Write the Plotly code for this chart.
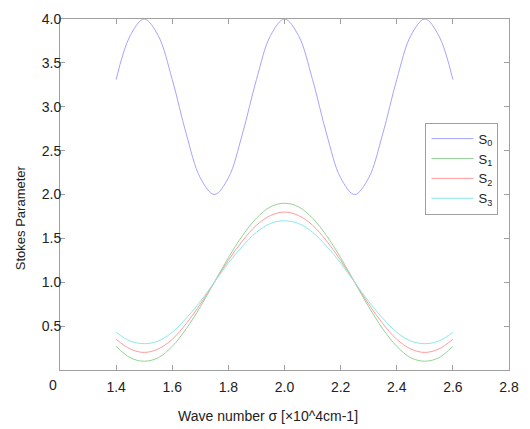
import plotly.graph_objects as go

# Wave number sigma [x10^4 cm-1]
sigma = [1.40, 1.45, 1.50, 1.55, 1.60, 1.65, 1.70, 1.75, 1.80, 1.85, 1.90, 1.95,
         2.00, 2.05, 2.10, 2.15, 2.20, 2.25, 2.30, 2.35, 2.40, 2.45, 2.50, 2.55, 2.60]

s0 = [3.31, 3.81, 4.00, 3.81, 3.31, 2.69, 2.19, 2.00, 2.19, 2.69, 3.31, 3.81,
      4.00, 3.81, 3.31, 2.69, 2.19, 2.00, 2.19, 2.69, 3.31, 3.81, 4.00, 3.81, 3.31]
s1 = [0.27, 0.14, 0.10, 0.14, 0.27, 0.47, 0.72, 1.00, 1.28, 1.53, 1.73, 1.86,
      1.90, 1.86, 1.73, 1.53, 1.28, 1.00, 0.72, 0.47, 0.27, 0.14, 0.10, 0.14, 0.27]
s2 = [0.35, 0.24, 0.20, 0.24, 0.35, 0.53, 0.75, 1.00, 1.25, 1.47, 1.65, 1.76,
      1.80, 1.76, 1.65, 1.47, 1.25, 1.00, 0.75, 0.53, 0.35, 0.24, 0.20, 0.24, 0.35]
s3 = [0.43, 0.33, 0.30, 0.33, 0.43, 0.59, 0.78, 1.00, 1.22, 1.41, 1.57, 1.67,
      1.70, 1.67, 1.57, 1.41, 1.22, 1.00, 0.78, 0.59, 0.43, 0.33, 0.30, 0.33, 0.43]

series_names = ["S<sub>0</sub>", "S<sub>1</sub>", "S<sub>2</sub>", "S<sub>3</sub>"]
series_colors = ["rgb(165,165,255)", "rgb(150,210,150)", "rgb(255,155,155)", "rgb(140,232,232)"]

x_ticks = [1.4, 1.6, 1.8, 2.0, 2.2, 2.4, 2.6, 2.8]
x_ticklabels = ["1.4", "1.6", "1.8", "2.0", "2.2", "2.4", "2.6", "2.8"]
y_ticks = [0.5, 1.0, 1.5, 2.0, 2.5, 3.0, 3.5, 4.0]
y_ticklabels = ["0.5", "1.0", "1.5", "2.0", "2.5", "3.0", "3.5", "4.0"]

FONT = "Liberation Sans, Arial, sans-serif"
W, H = 530, 429
L, R, T, B = 60, 13, 11, 59
PW, PH = W - L - R, H - T - B


def px(x):
    return (x - L) / PW


def py(y):
    return (H - B - y) / PH


fig = go.Figure()
for name, ys, col in zip(series_names, [s0, s1, s2, s3], series_colors):
    fig.add_trace(go.Scatter(x=sigma, y=ys, mode="lines", name=name,
                             line=dict(color=col, width=1, shape="spline", smoothing=1.0)))

axis_common = dict(showline=True, linecolor="#a0a0a0", linewidth=1, mirror="ticks",
                   ticks="inside", ticklen=5, tickcolor="#a0a0a0", showgrid=False,
                   zeroline=False, tickfont=dict(family=FONT, size=14, color="#222"))

fig.update_xaxes(range=[1.2, 2.8], tickvals=x_ticks, ticktext=x_ticklabels,
                 ticklabelstandoff=4, **axis_common)
fig.update_yaxes(range=[0, 4], tickvals=y_ticks, ticktext=y_ticklabels,
                 ticklabelstandoff=-5, **axis_common)

fig.update_layout(
    width=W, height=H,
    margin=dict(l=L, r=R, t=T, b=B),
    plot_bgcolor="white", paper_bgcolor="white",
    font=dict(family=FONT, size=14, color="#222"),
    legend=dict(x=px(432), y=py(117), xanchor="left", yanchor="top",
                bordercolor="#a0a0a0", borderwidth=1, bgcolor="white",
                font=dict(family=FONT, size=13, color="#222"),
                tracegroupgap=0, itemwidth=42),
    annotations=[
        dict(text="0", xref="paper", yref="paper", x=px(53), y=py(385),
             xanchor="center", yanchor="middle", showarrow=False,
             font=dict(family=FONT, size=14, color="#222")),
        dict(text="Wave number σ [×10^4cm-1]", xref="paper", yref="paper",
             x=px(272), y=py(417), xanchor="center", yanchor="middle", showarrow=False,
             font=dict(family=FONT, size=14, color="#222")),
        dict(text="Stokes Parameter", xref="paper", yref="paper",
             x=px(20), y=py(214), xanchor="center", yanchor="middle", showarrow=False,
             textangle=-90, font=dict(family=FONT, size=13, color="#222")),
    ],
)

fig.write_html("out.html", config={"displayModeBar": False},
               post_script="document.body.style.margin='0';document.body.style.padding='0';")
